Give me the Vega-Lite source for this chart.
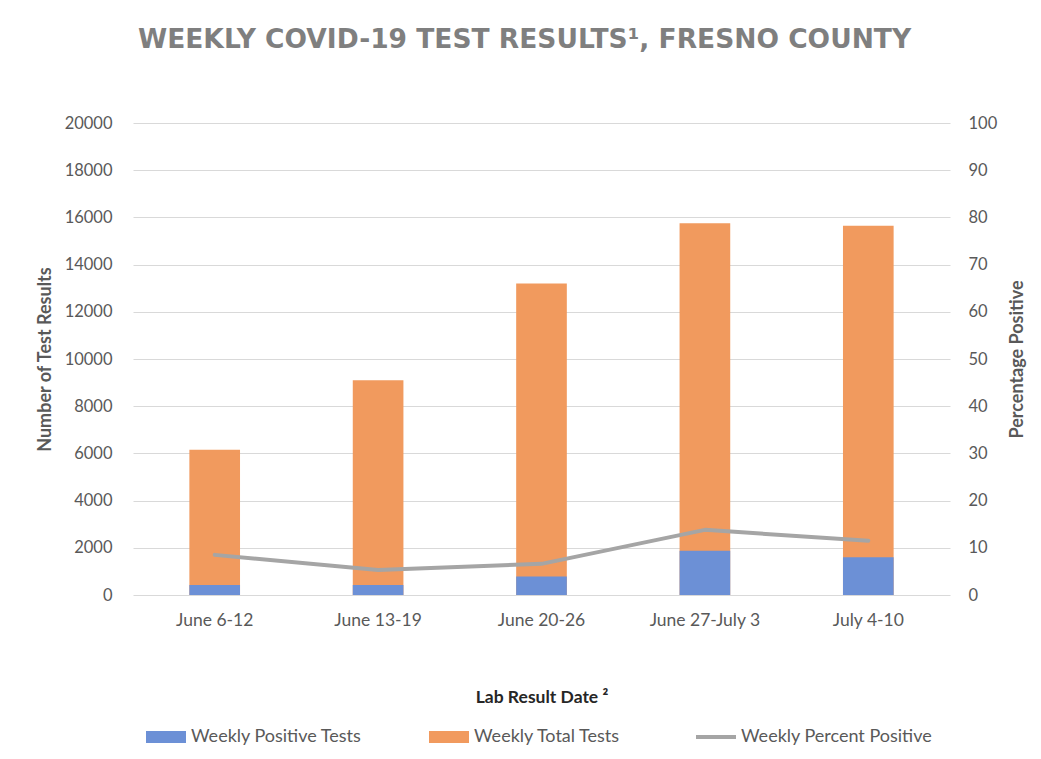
{
  "$schema": "https://vega.github.io/schema/vega-lite/v6.json",
  "autosize": "none",
  "width": 817,
  "height": 472,
  "padding": {"left": 133, "top": 123, "right": 91, "bottom": 164},
  "background": "white",
  "title": {
    "text": "WEEKLY COVID-19 TEST RESULTS¹, FRESNO COUNTY",
    "font": "DejaVu Sans",
    "fontSize": 26.5,
    "fontWeight": "bold",
    "color": "#7F7F7F",
    "anchor": "middle",
    "dx": -17,
    "offset": 62
  },
  "config": {
    "view": {"stroke": null},
    "font": "Lato",
    "axis": {
      "labelFont": "Lato",
      "titleFont": "Lato",
      "labelColor": "#595959",
      "titleColor": "#595959",
      "labelFontSize": 16.5,
      "titleFontSize": 18,
      "titleFontWeight": "bold"
    }
  },
  "data": {
    "values": [
      {"week": "June 6-12", "positive": 420, "total": 6150, "percent": 8.5},
      {"week": "June 13-19", "positive": 420, "total": 9100, "percent": 5.3},
      {"week": "June 20-26", "positive": 780, "total": 13200, "percent": 6.6},
      {"week": "June 27-July 3", "positive": 1880, "total": 15750, "percent": 13.8},
      {"week": "July 4-10", "positive": 1600, "total": 15650, "percent": 11.5}
    ]
  },
  "encoding": {
    "x": {
      "field": "week",
      "type": "nominal",
      "sort": null,
      "scale": {"paddingInner": 0.69, "paddingOuter": 0.345},
      "axis": {
        "title": "Lab Result Date ²",
        "titleFontSize": 17.5,
        "titleColor": "#262626",
        "labelFontSize": 17.5,
        "labelAngle": 0,
        "ticks": false,
        "domain": false,
        "labelPadding": 16,
        "titlePadding": 60
      }
    }
  },
  "layer": [
    {
      "encoding": {
        "y": {
          "type": "quantitative",
          "scale": {"domain": [0, 20000]},
          "axis": {
            "title": "Number of Test Results",
            "values": [0, 2000, 4000, 6000, 8000, 10000, 12000, 14000, 16000, 18000, 20000],
            "format": "d",
            "domain": false,
            "ticks": false,
            "grid": true,
            "gridColor": "#D9D9D9",
            "labelPadding": 21,
            "titlePadding": 10
          }
        }
      },
      "layer": [
        {
          "mark": {"type": "bar", "color": "#F19A5E"},
          "encoding": {
            "y": {"field": "total", "type": "quantitative", "title": "Number of Test Results"},
            "color": {
              "datum": "Weekly Total Tests",
              "type": "nominal",
              "scale": {
                "domain": ["Weekly Positive Tests", "Weekly Total Tests", "Weekly Percent Positive"],
                "range": ["#6C90D6", "#F19A5E", "#A5A5A5"]
              },
              "legend": {
                "title": null,
                "orient": "none",
                "direction": "horizontal",
                "legendX": 24,
                "legendY": 605,
                "symbolSize": 1600,
                "labelFontSize": 18,
                "labelFont": "Lato",
                "labelColor": "#595959",
                "labelOffset": 16,
                "labelLimit": 400,
                "columnPadding": 67,
                "encode": {
                  "symbols": {
                    "update": {
                      "shape": {"signal": "datum.value === 'Weekly Percent Positive' ? 'M-1,0H1' : 'M-1,-0.3H1V0.3H-1Z'"},
                      "fill": {"signal": "datum.value === 'Weekly Percent Positive' ? 'transparent' : scale('color', datum.value)"},
                      "stroke": {"signal": "scale('color', datum.value)"},
                      "strokeWidth": {"signal": "datum.value === 'Weekly Percent Positive' ? 4 : 0"},
                      "opacity": {"value": 1}
                    }
                  }
                }
              }
            }
          }
        },
        {
          "mark": {"type": "bar", "color": "#6C90D6"},
          "encoding": {
            "y": {"field": "positive", "type": "quantitative", "title": "Number of Test Results"},
            "color": {"datum": "Weekly Positive Tests", "type": "nominal"}
          }
        },
        {
          "mark": {"type": "rule", "color": "#BFBFBF", "strokeWidth": 3},
          "encoding": {"y": {"datum": 0, "type": "quantitative"}}
        }
      ]
    },
    {
      "mark": {"type": "line", "strokeWidth": 4, "strokeCap": "round", "strokeJoin": "round"},
      "encoding": {
        "y": {
          "field": "percent",
          "type": "quantitative",
          "scale": {"domain": [0, 100]},
          "axis": {
            "orient": "right",
            "title": "Percentage Positive",
            "titleAngle": 270,
            "values": [0, 10, 20, 30, 40, 50, 60, 70, 80, 90, 100],
            "domain": false,
            "ticks": false,
            "grid": false,
            "labelPadding": 18,
            "titlePadding": 30
          }
        },
        "color": {"datum": "Weekly Percent Positive", "type": "nominal"}
      }
    }
  ],
  "resolve": {"scale": {"y": "independent"}}
}
